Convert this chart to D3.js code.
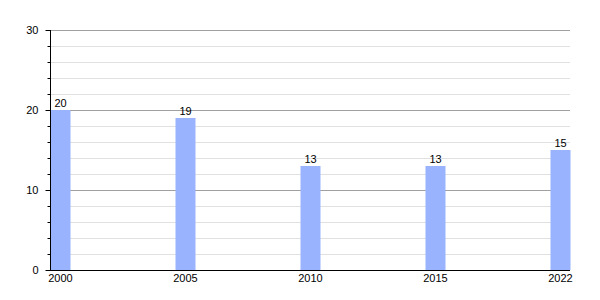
<!DOCTYPE html>
<html>
<head>
<meta charset="utf-8">
<script src="https://cdn.jsdelivr.net/npm/d3@7"></script>
<style>
  body { margin: 0; background: #fff; }
  text { font-family: "Liberation Sans", Arial, sans-serif; font-size: 11px; fill: #000; }
</style>
</head>
<body>
<div id="plot"></div>
<script>
// Data
var years = ["2000", "2005", "2010", "2015", "2022"];
var values = [20, 19, 13, 13, 15];
var majorTicks = [0, 10, 20, 30];
var minorTicks = [2, 4, 6, 8, 12, 14, 16, 18, 22, 24, 26, 28];

function init() {
  var w = 600, h = 300;
  var left = 50, right = 570, top = 30, bottom = 270;
  var barW = 20;

  var svg = d3.select("#plot")
    .append("svg")
    .attr("width", w)
    .attr("height", h);

  var yScale = d3.scaleLinear().domain([0, 30]).range([bottom, top]);
  var xScale = d3.scalePoint().domain(years).range([left + barW / 2, right - barW / 2]);

  // minor gridlines
  svg.selectAll("line.minor")
    .data(minorTicks)
    .enter()
    .append("line")
    .attr("class", "minor")
    .attr("x1", left).attr("x2", right)
    .attr("y1", function(d) { return yScale(d) + 0.5; })
    .attr("y2", function(d) { return yScale(d) + 0.5; })
    .style("stroke", "#e0e0e0");

  // major gridlines
  svg.selectAll("line.major")
    .data(majorTicks.filter(function(d) { return d > 0; }))
    .enter()
    .append("line")
    .attr("class", "major")
    .attr("x1", left).attr("x2", right)
    .attr("y1", function(d) { return yScale(d) + 0.5; })
    .attr("y2", function(d) { return yScale(d) + 0.5; })
    .style("stroke", "#a0a0a0");

  // bars
  svg.selectAll("rect")
    .data(values)
    .enter()
    .append("rect")
    .attr("x", function(d, i) { return xScale(years[i]) - barW / 2 + 0.5; })
    .attr("y", function(d) { return yScale(d); })
    .attr("width", barW)
    .attr("height", function(d) { return bottom - yScale(d); })
    .style("fill", "#99b3ff");

  // value labels
  svg.selectAll("text.val")
    .data(values)
    .enter()
    .append("text")
    .attr("class", "val")
    .attr("text-anchor", "middle")
    .attr("x", function(d, i) { return xScale(years[i]) + 0.5; })
    .attr("y", function(d) { return yScale(d) - 3; })
    .text(function(d) { return d; });

  // y axis (major ticks)
  var yAxis = d3.axisLeft(yScale)
    .tickValues(majorTicks)
    .tickSize(5)
    .tickPadding(7);
  var gy = svg.append("g")
    .attr("transform", "translate(" + (left + 0.5) + ",0)")
    .call(yAxis);
  gy.select(".domain").remove();
  gy.selectAll("text").style("font-size", "11px").style("font-family", "Liberation Sans, Arial, sans-serif");

  // minor ticks
  var gm = svg.append("g")
    .attr("transform", "translate(" + (left + 0.5) + ",0)")
    .call(d3.axisLeft(yScale).tickValues(minorTicks).tickSize(3).tickFormat(""));
  gm.select(".domain").remove();

  // axis lines
  svg.append("line")
    .attr("x1", left + 0.5).attr("x2", left + 0.5)
    .attr("y1", top).attr("y2", bottom + 0.5)
    .style("stroke", "#000");
  svg.append("line")
    .attr("x1", left).attr("x2", right)
    .attr("y1", bottom + 0.5).attr("y2", bottom + 0.5)
    .style("stroke", "#000");

  // x labels
  svg.selectAll("text.xl")
    .data(years)
    .enter()
    .append("text")
    .attr("class", "xl")
    .attr("text-anchor", "middle")
    .attr("x", function(d) { return xScale(d) + 0.5; })
    .attr("y", bottom + 12)
    .text(function(d) { return d; });
}

window.onload = init;
</script>
</body>
</html>
